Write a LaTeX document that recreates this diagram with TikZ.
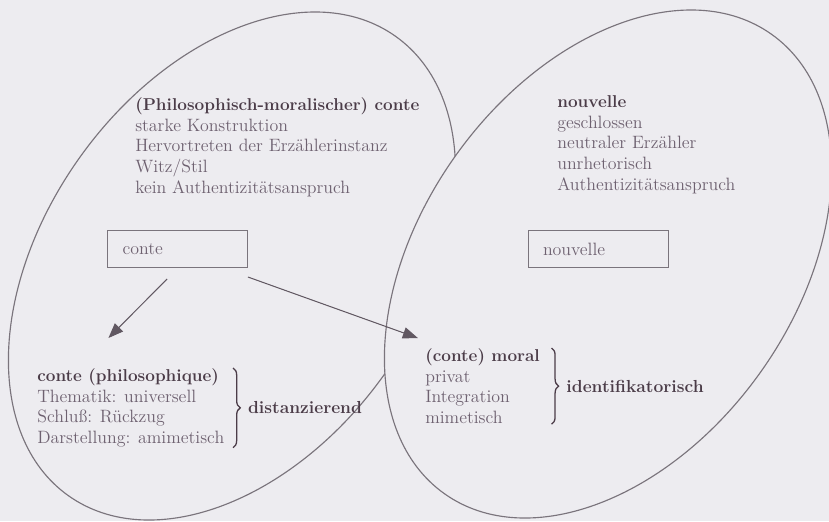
\documentclass[tikz,border=0pt]{standalone}
\usepackage{fontspec}
\usepackage{xcolor}
\usepackage{tikz}
\usetikzlibrary{arrows.meta, positioning, decorations.pathreplacing}
\definecolor{paper}{HTML}{EDECF0}
\definecolor{linecol}{HTML}{7A747C}
\definecolor{arrowcol}{HTML}{615862}
\definecolor{inkbold}{HTML}{4B3C48}
\definecolor{inktext}{HTML}{6E6170}
\newcommand{\headline}[1]{\textcolor{inkbold}{\fontsize{12}{14.6}\selectfont\bfseries #1}}
\tikzset{
    outline/.style={draw=linecol, line width=0.8pt},
    box/.style={rectangle, draw=linecol, line width=0.6pt, minimum width=98pt, minimum height=26pt, inner xsep=10.5pt, text width=77pt, align=left, text=inktext, font=\fontsize{12.5}{14.6}\selectfont},
    textblock/.style={align=left, inner sep=0pt, text=inktext, font=\fontsize{12.5}{14.6}\selectfont},
    arrow/.style={-{Triangle[length=10.5pt, width=8pt]}, draw=arrowcol, fill=arrowcol, line width=0.7pt},
    brace/.style={decorate, decoration={brace, amplitude=5pt}, draw=inkbold, line width=0.9pt},
    labelstyle/.style={font=\fontsize{12.2}{14.6}\selectfont\bfseries, text=inkbold, inner sep=0pt},
}

\begin{document}
\begin{tikzpicture}[x=0.7pt, y=-0.7pt]

    % Paper
    \fill[paper] (0,0) rectangle (829,521);
    \useasboundingbox (0,0) rectangle (829,521);

    % Ellipses
    \draw[outline, rotate around={54.5:(232,266)}] (232,266) ellipse [x radius=282, y radius=187];
    \draw[outline, fill=paper, rotate around={54.5:(608,264)}] (608,264) ellipse [x radius=282, y radius=187];

    % Nodes
    \node[textblock, anchor=north west] (philomoral) at (135,97) {\headline{(Philosophisch-moralischer) conte}\\
        starke Konstruktion\\
        Hervortreten der Erzählerinstanz\\
        Witz/Stil\\
        kein Authentizitätsanspruch};
    \node[textblock, anchor=north west] (nouvtext) at (557,95) {\headline{nouvelle}\\
        geschlossen\\
        neutraler Erzähler\\
        unrhetorisch\\
        Authentizitätsanspruch};
    \node[box] (conte) at (177.5,249) {conte};
    \node[box] (nouvelle) at (598,249) {nouvelle};
    \node[textblock, anchor=north west] (philo) at (37,368) {\headline{conte (philosophique)}\\
        Thematik: universell\\
        Schluß: Rückzug\\
        Darstellung: amimetisch};
    \node[textblock, anchor=north west] (moral) at (425,348) {\headline{(conte) moral}\\
        privat\\
        Integration\\
        mimetisch};

    % Braces
    \draw[brace] ([xshift=6pt]philo.north east) -- ([xshift=6pt]philo.south east)
        node[labelstyle, midway, right=10pt] (distanz) {distanzierend};
    \draw[brace] ([xshift=8pt]moral.north east) -- ([xshift=8pt]moral.south east)
        node[labelstyle, midway, right=10pt] (identif) {identifikatorisch};

    % Arrows
    \draw[arrow] ([xshift=-7.3pt, yshift=-7.7pt]conte.south) -- ([xshift=50pt, yshift=21pt]philo.north west);
    \draw[arrow] ([yshift=-6.3pt]conte.south east) -- ([xshift=-5pt, yshift=7pt]moral.north west);

\end{tikzpicture}
\end{document}
